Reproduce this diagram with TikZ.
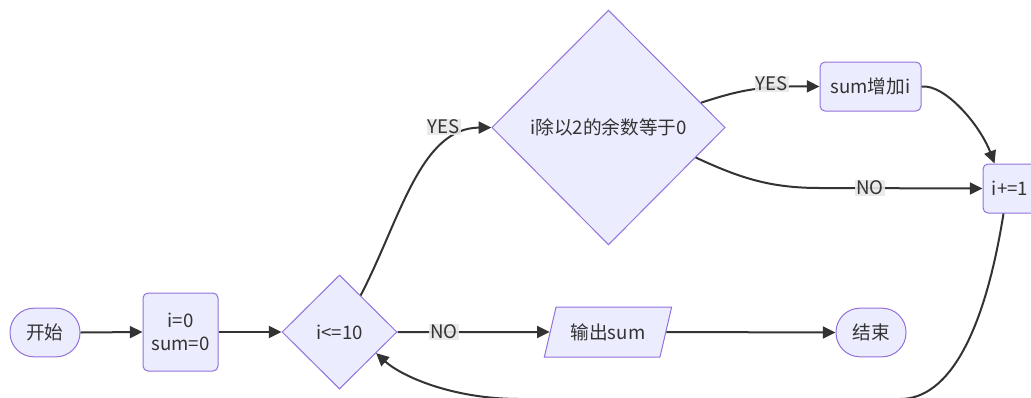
\documentclass[tikz,border=0pt]{standalone}
\usepackage{fontspec}
\newfontfamily\cjk{Noto Sans CJK SC}
\usetikzlibrary{shapes.geometric,arrows.meta,calc}
\definecolor{cfill}{HTML}{ECECFF}
\definecolor{cstroke}{HTML}{9370DB}
\definecolor{cedge}{HTML}{333333}
\definecolor{clbl}{HTML}{E8E8E8}
\definecolor{ctext}{HTML}{333333}
\tikzset{
  base/.style={draw=cstroke, fill=cfill, line width=0.75pt, text=ctext,
    font=\cjk\fontsize{14}{17.5}\selectfont, align=center},
  stadium/.style={base, rectangle, rounded corners=18pt, minimum width=52.5pt, minimum height=36.5pt, inner sep=0pt},
  procbox/.style={base, rectangle, rounded corners=3.75pt, inner sep=0pt},
  decision/.style={base, diamond, inner sep=0pt},
  iobox/.style={base, trapezium, trapezium left angle=64, trapezium right angle=116,
    trapezium stretches=true, minimum width=96pt, minimum height=37.5pt, inner sep=0pt},
  edge/.style={draw=cedge, line width=1.5pt, -{Triangle[length=9.5pt,width=9pt]}},
  lbl/.style={fill=clbl, fill opacity=0.9, text opacity=1, text=ctext, inner sep=1pt,
    font=\cjk\fontsize{14}{15}\selectfont}
}
\begin{document}
\begin{tikzpicture}[x=0.75pt, y=-0.75pt]
\useasboundingbox (0,0) rectangle (1031,397);
% nodes
\node[stadium] (start) at (45,332.5) {开始};
\node[procbox, minimum width=56.25pt, minimum height=58.5pt] (init) at (180.5,332) {i=0\\sum=0};
\node[decision, minimum width=86.25pt, minimum height=85.5pt] (cond) at (339.5,332) {i<=10};
\node[decision, minimum width=175pt, minimum height=176pt] (mod) at (608.5,127.5) {i除以2的余数等于0};
\node[procbox, minimum width=75.75pt, minimum height=36.75pt] (add) at (870.5,86.5) {sum增加i};
\node[procbox, minimum width=40.5pt, minimum height=36.75pt] (inc) at (1010,188.5) {i+=1};
\node[iobox] (out) at (608,332) {输出sum};
\node[stadium] (stop) at (871,332.5) {结束};
% edges
\draw[edge] (start.east) -- (init.west);
\draw[edge] (init.east) -- (cond.west);
\draw[edge] (cond.60) .. controls (400,220) and (420,128) .. (mod.west);
\draw[edge] (mod.15) .. controls (740,90) and (760,86) .. (add.west);
\draw[edge] (mod.-19) .. controls (740,178) and (770,188) .. (820,188) -- (inc.west);
\draw[edge] (add.east) .. controls (945,84) and (980,125) .. ($(inc.north west)+(12,0)$);
\draw[edge] ($(inc.south west)+(21,0)$) .. controls (985,330) and (950,399) .. (900,399)
  -- (520,399) .. controls (450,399) and (400,375) .. (cond.-30);
\draw[edge] (cond.east) -- (out.west);
\draw[edge] (out.east) -- (stop.west);
% labels
\node[lbl] (l1) at (444,127) {YES};
\node[lbl] (l2) at (772,84) {YES};
\node[lbl] (l3) at (870,188) {NO};
\node[lbl] (l4) at (444,332) {NO};
\end{tikzpicture}
\end{document}
